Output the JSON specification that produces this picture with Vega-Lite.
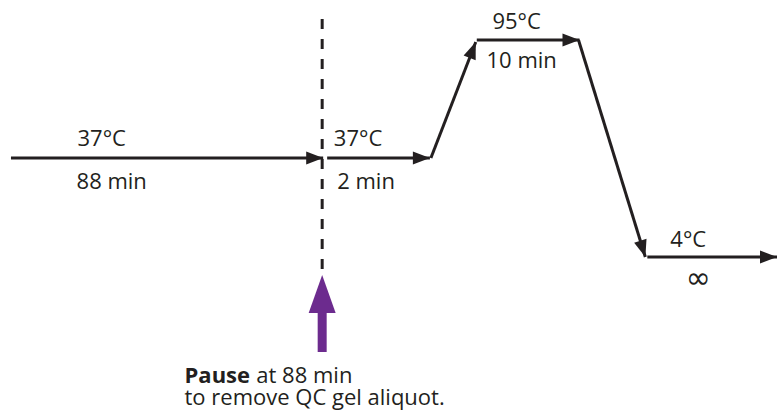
{
  "$schema": "https://vega.github.io/schema/vega-lite/v6.json",
  "width": 779,
  "height": 414,
  "autosize": {"type": "fit", "contains": "padding"},
  "padding": 0,
  "background": "white",
  "config": {"view": {"stroke": null}},
  "datasets": {
    "segments": [
      {"step": "37C hold 88 min", "x": 11, "y": 158, "x2": 324, "y2": 158},
      {"step": "37C hold 2 min", "x": 328, "y": 158, "x2": 431, "y2": 158},
      {"step": "ramp up", "x": 432, "y": 158, "x2": 477, "y2": 42},
      {"step": "95C hold 10 min", "x": 478, "y": 40, "x2": 581, "y2": 40},
      {"step": "ramp down", "x": 580, "y": 40, "x2": 647, "y2": 257},
      {"step": "4C hold", "x": 649, "y": 257, "x2": 779, "y2": 257}
    ],
    "labels": [
      {"text": "37°C", "x": 102, "y": 146},
      {"text": "88 min", "x": 112, "y": 189},
      {"text": "37°C", "x": 359, "y": 146},
      {"text": "2 min", "x": 367, "y": 189},
      {"text": "95°C", "x": 518, "y": 29},
      {"text": "10 min", "x": 523, "y": 68},
      {"text": "4°C", "x": 690, "y": 247}
    ],
    "pause": [{"x": 323, "y": 15, "y2": 274, "ax": 323, "ay": 352, "ay2": 300, "tip": 275}]
  },
  "encoding": {
    "x": {"type": "quantitative", "scale": {"domain": [0, 779], "nice": false, "zero": false}, "axis": null},
    "y": {"type": "quantitative", "scale": {"domain": [0, 414], "nice": false, "zero": false, "reverse": true}, "axis": null}
  },
  "layer": [
    {
      "data": {"name": "pause"},
      "mark": {"type": "rule", "color": "#231f20", "strokeWidth": 3, "strokeDash": [10, 10], "strokeDashOffset": -4},
      "encoding": {"x": {"field": "x"}, "y": {"field": "y"}, "y2": {"field": "y2"}}
    },
    {
      "data": {"name": "segments"},
      "mark": {"type": "rule", "color": "#231f20", "strokeWidth": 3},
      "encoding": {"x": {"field": "x"}, "y": {"field": "y"}, "x2": {"field": "x2"}, "y2": {"field": "y2"}}
    },
    {
      "data": {"name": "segments"},
      "transform": [{"calculate": "atan2(datum.y2 - datum.y, datum.x2 - datum.x) * 180 / PI", "as": "dir"}],
      "mark": {"type": "point", "filled": true, "color": "#231f20", "opacity": 1, "size": 289, "shape": "M0,0L-2,-0.76L-2,0.76Z"},
      "encoding": {"x": {"field": "x2"}, "y": {"field": "y2"}, "angle": {"field": "dir", "type": "quantitative", "scale": null}}
    },
    {
      "data": {"name": "pause"},
      "mark": {"type": "rule", "color": "#6c2b8e", "strokeWidth": 9},
      "encoding": {"x": {"field": "ax"}, "y": {"field": "ay"}, "y2": {"field": "ay2"}}
    },
    {
      "data": {"name": "pause"},
      "mark": {"type": "point", "filled": true, "color": "#6c2b8e", "opacity": 1, "size": 1444, "shape": "M0,0L-2,-0.71L-2,0.71Z", "angle": 270},
      "encoding": {"x": {"field": "ax"}, "y": {"field": "tip"}}
    },
    {
      "data": {"name": "labels"},
      "mark": {"type": "text", "font": "Open Sans", "fontSize": 22, "color": "#231f20", "align": "center", "baseline": "alphabetic"},
      "encoding": {"x": {"field": "x"}, "y": {"field": "y"}, "text": {"field": "text"}}
    },
    {
      "data": {"values": [{"text": "∞", "x": 700, "y": 288}]},
      "mark": {"type": "text", "font": "DejaVu Sans", "fontSize": 30, "color": "#231f20", "align": "center", "baseline": "alphabetic"},
      "encoding": {"x": {"field": "x"}, "y": {"field": "y"}, "text": {"field": "text"}}
    },
    {
      "data": {"values": [{"text": "Pause", "x": 185, "y": 383}]},
      "mark": {"type": "text", "font": "Open Sans", "fontSize": 22, "fontWeight": "bold", "color": "#231f20", "align": "left", "baseline": "alphabetic"},
      "encoding": {"x": {"field": "x"}, "y": {"field": "y"}, "text": {"field": "text"}}
    },
    {
      "data": {"values": [{"text": "at 88 min", "x": 257, "y": 383}, {"text": "to remove QC gel aliquot.", "x": 185, "y": 405}]},
      "mark": {"type": "text", "font": "Open Sans", "fontSize": 22, "color": "#231f20", "align": "left", "baseline": "alphabetic"},
      "encoding": {"x": {"field": "x"}, "y": {"field": "y"}, "text": {"field": "text"}}
    }
  ]
}
